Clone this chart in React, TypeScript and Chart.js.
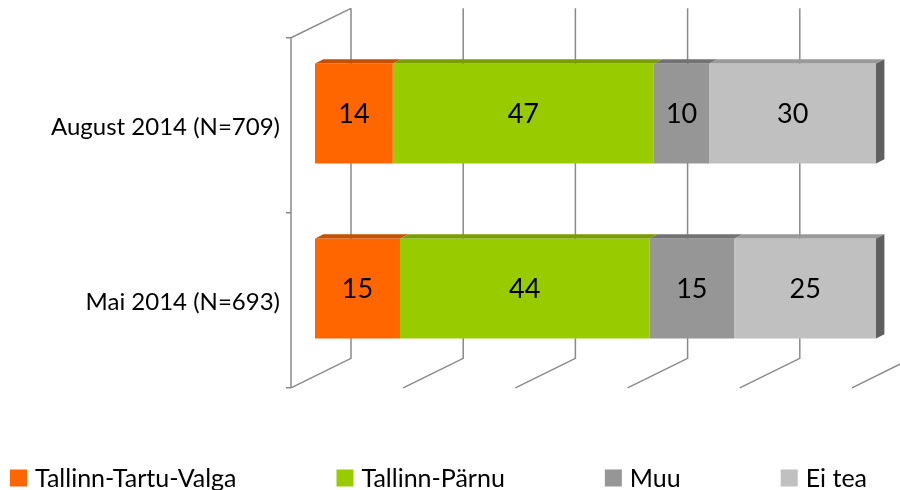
import React, { useEffect, useRef } from "react";
import { Chart, registerables } from "chart.js";

Chart.register(...registerables);

const categories = ["August 2014 (N=709)", "Mai 2014 (N=693)"];
const seriesNames = ["Tallinn-Tartu-Valga", "Tallinn-Pärnu", "Muu", "Ei tea"];
const tallinnTartuValga = [14, 15];
const tallinnParnu = [47, 44];
const muu = [10, 15];
const eiTea = [30, 25];
const xTicks = [0, 20, 40, 60, 80, 100];

const seriesValues = [tallinnTartuValga, tallinnParnu, muu, eiTea];
const frontColors = ["#FF6600", "#99CC00", "#969696", "#C0C0C0"];
const topColors = ["#C45000", "#7A9E00", "#727272", "#9A9A9A"];
const sideColor = "#606060";
const gridColor = "#8A8A8A";
const FONT = "Lato, 'Open Sans', sans-serif";

// depth vector from front wall to back wall
const DX = 60;
const DY = -29.5;
const BAR_PLANE = 0.4; // fraction from front where bar fronts sit
const BAR_DEPTH = 0.14;

const totals = categories.map((_, i) => seriesValues.reduce((s, arr) => s + arr[i], 0));

const frame3d = {
  id: "frame3d",
  beforeDatasetsDraw(chart: any) {
    const { ctx, chartArea } = chart;
    const xs = chart.scales.x;
    const bx = (1 - BAR_PLANE) * DX;
    const by = (1 - BAR_PLANE) * DY;
    const fx = -BAR_PLANE * DX;
    const fy = -BAR_PLANE * DY;
    ctx.save();
    ctx.strokeStyle = gridColor;
    ctx.lineWidth = 1.5;
    ctx.beginPath();
    xTicks.forEach((v) => {
      const p = xs.getPixelForValue(v);
      ctx.moveTo(p + bx, chartArea.top + by);
      ctx.lineTo(p + bx, chartArea.bottom + by);
      ctx.lineTo(p + fx, chartArea.bottom + fy);
    });
    const p0 = xs.getPixelForValue(0);
    ctx.moveTo(p0 + fx, chartArea.bottom + fy);
    ctx.lineTo(p0 + fx, chartArea.top + fy);
    ctx.lineTo(p0 + bx, chartArea.top + by);
    const n = categories.length;
    const step = (chartArea.bottom - chartArea.top) / n;
    for (let i = 0; i <= n; i++) {
      const y = chartArea.top + fy + i * step;
      ctx.moveTo(p0 + fx - 5, y);
      ctx.lineTo(p0 + fx, y);
    }
    ctx.stroke();
    ctx.restore();
  },
  afterDatasetsDraw(chart: any) {
    const { ctx } = chart;
    const dx = BAR_DEPTH * DX;
    const dy = BAR_DEPTH * DY;
    ctx.save();
    const nd = chart.data.datasets.length;
    chart.data.datasets.forEach((ds: any, di: number) => {
      const meta = chart.getDatasetMeta(di);
      meta.data.forEach((el: any, i: number) => {
        const { x, y, base, height } = el.getProps(["x", "y", "base", "height"], true);
        const top = y - height / 2;
        const bottom = y + height / 2;
        ctx.fillStyle = topColors[di];
        ctx.beginPath();
        ctx.moveTo(base, top);
        ctx.lineTo(x, top);
        ctx.lineTo(x + dx, top + dy);
        ctx.lineTo(base + dx, top + dy);
        ctx.closePath();
        ctx.fill();
        if (di === nd - 1) {
          ctx.fillStyle = sideColor;
          ctx.beginPath();
          ctx.moveTo(x, top);
          ctx.lineTo(x + dx, top + dy);
          ctx.lineTo(x + dx, bottom + dy);
          ctx.lineTo(x, bottom);
          ctx.closePath();
          ctx.fill();
        }
        ctx.fillStyle = "#000";
        ctx.font = `27px ${FONT}`;
        ctx.textAlign = "center";
        ctx.textBaseline = "middle";
        ctx.fillText(String(ds.rawValues[i]), (x + base) / 2, y + 1);
      });
    });
    ctx.restore();
  },
  afterDraw(chart: any) {
    const { ctx } = chart;
    ctx.save();
    ctx.font = `25px ${FONT}`;
    ctx.textAlign = "left";
    ctx.textBaseline = "middle";
    let x = 10;
    const yc = 478;
    chart.data.datasets.forEach((ds: any, di: number) => {
      ctx.fillStyle = frontColors[di];
      ctx.fillRect(x, yc - 8.5, 17, 17);
      ctx.fillStyle = "#000";
      ctx.fillText(ds.label, x + 25, yc + 1);
      x += 25 + ctx.measureText(ds.label).width + 100;
    });
    ctx.restore();
  },
};

export default function App() {
  const ref = useRef<HTMLCanvasElement | null>(null);
  useEffect(() => {
    if (!ref.current) return;
    const chart = new Chart(ref.current, {
      type: "bar",
      data: {
        labels: categories,
        datasets: seriesValues.map((vals, di) => ({
          label: seriesNames[di],
          data: vals.map((v, i) => (v / totals[i]) * 100),
          rawValues: vals,
          backgroundColor: frontColors[di],
          borderWidth: 0,
          barPercentage: 1,
          categoryPercentage: 100 / 175,
        })) as any,
      },
      options: {
        indexAxis: "y",
        animation: false,
        responsive: true,
        maintainAspectRatio: false,
        layout: { padding: { top: 26, bottom: 114, right: 24, left: 0 } },
        plugins: { legend: { display: false }, tooltip: { enabled: false } },
        scales: {
          x: { stacked: true, min: 0, max: 100, display: false },
          y: {
            stacked: true,
            grid: { display: false, drawTicks: false },
            border: { display: false },
            ticks: {
              color: "#000",
              font: { family: FONT, size: 24 },
              padding: 35,
              labelOffset: 14,
            },
            afterFit: (s: any) => {
              s.width = 315;
              s.paddingTop = 0;
              s.paddingBottom = 0;
            },
          },
        },
      },
      plugins: [frame3d],
    });
    return () => chart.destroy();
  }, []);
  return (
    <div style={{ position: "fixed", left: 0, top: 0, width: 900, height: 490, background: "#fff" }}>
      <canvas ref={ref} />
    </div>
  );
}
